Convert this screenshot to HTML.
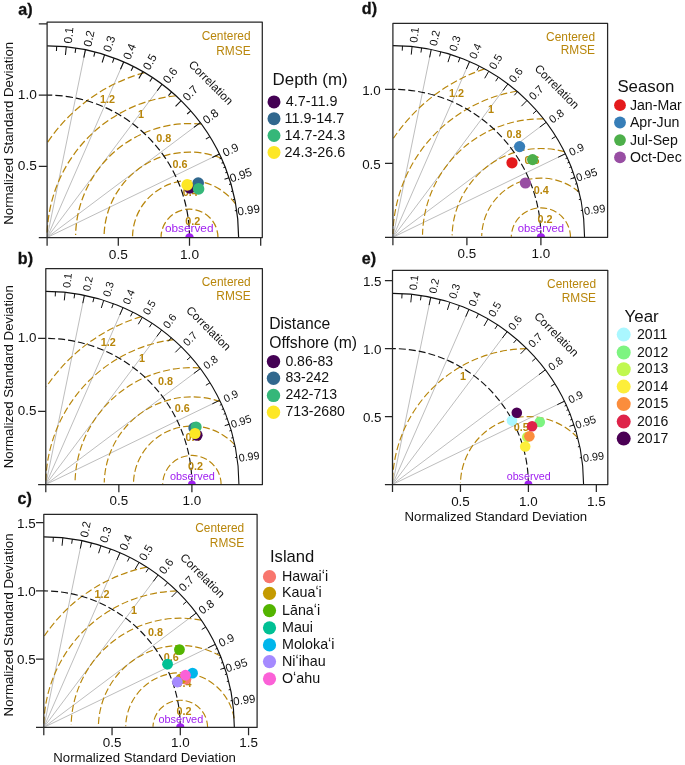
<!DOCTYPE html>
<html><head><meta charset="utf-8"><title>Taylor diagrams</title>
<style>html,body{margin:0;padding:0;background:#fff;}svg{display:block;will-change:transform;}text{font-family:'Liberation Sans', sans-serif;}</style>
</head><body>
<svg width="685" height="765" viewBox="0 0 685 765">
<rect width="685" height="765" fill="#fff"/>
<g id="pa">
<clipPath id="cla"><rect x="47.1" y="22" width="215.2" height="215.5"/></clipPath>
<path d="M47.1 237.5L85.41 49.84M47.1 237.5L123.71 61.96M47.1 237.5L162.02 84.28M47.1 237.5L200.32 122.58M47.1 237.5L219.48 154.01" stroke="#BEBEBE" stroke-width="1.0" fill="none"/>
<path d="M217.98 237.5 A28.48 28.48 0 0 0 161.03 236.89" stroke="#B8860B" stroke-width="1.25" fill="none" stroke-dasharray="7.3 3.1"/>
<path d="M235.71 204.2 A56.96 56.96 0 0 0 132.55 236.27" stroke="#B8860B" stroke-width="1.25" fill="none" stroke-dasharray="7.3 3.1"/>
<path d="M221.47 158.27 A85.44 85.44 0 0 0 104.08 235.66" stroke="#B8860B" stroke-width="1.25" fill="none" stroke-dasharray="7.3 3.1"/>
<path d="M201.53 124.22 A113.92 113.92 0 0 0 75.61 235.04" stroke="#B8860B" stroke-width="1.25" fill="none" stroke-dasharray="7.3 3.1"/>
<path d="M175.9 95.75 A142.4 142.4 0 0 0 47.13 234.43" stroke="#B8860B" stroke-width="1.25" fill="none" stroke-dasharray="7.3 3.1"/>
<path d="M144.57 72.63 A170.88 170.88 0 0 0 47.66 142.2" stroke="#B8860B" stroke-width="1.25" fill="none" stroke-dasharray="7.3 3.1"/>
<path d="M189.5 237.5 A142.4 142.4 0 0 0 47.1 95.1" stroke="#111" stroke-width="1.2" fill="none" stroke-dasharray="7.3 3.1"/>
<path d="M238.63 237.5 A191.53 191.53 0 0 0 47.1 45.97" stroke="#111" stroke-width="1.2" fill="none"/>
<path d="M66.25 46.93L65.45 54.94M85.41 49.84L83.8 57.72M104.56 54.79L102.15 62.47M123.71 61.96L120.49 69.33M142.86 71.63L138.84 78.6M162.02 84.28L157.19 90.71M181.17 100.72L175.54 106.47M200.32 122.58L193.89 127.41M219.48 154.01L212.24 157.52M56.68 46.21L56.44 50.99M75.83 48.14L75.11 52.87M94.98 52.05L93.78 56.69M114.13 58.09L112.46 62.57M133.29 66.46L131.13 70.74M152.44 77.54L149.81 81.54M171.59 91.95L168.48 95.59M190.75 110.82L187.15 113.98M209.9 136.61L205.83 139.13M229.05 177.7L224.5 179.19M221.39 158.09L219.65 158.89M223.31 162.44L221.54 163.19M225.22 167.1L223.44 167.81M227.14 172.16L225.34 172.81M229.05 177.7L227.23 178.29M230.97 183.87L229.13 184.41M232.88 190.94L231.02 191.4M234.8 199.39L232.92 199.77M236.71 210.48L234.82 210.75" stroke="#111" stroke-width="1.08" fill="none"/>
<text transform="translate(67.44 35.12) rotate(-84.26)" font-size="11.7" fill="#111" text-anchor="middle" dy="0.44em">0.1</text>
<text transform="translate(87.78 38.21) rotate(-78.46)" font-size="11.7" fill="#111" text-anchor="middle" dy="0.44em">0.2</text>
<text transform="translate(108.12 43.47) rotate(-72.54)" font-size="11.7" fill="#111" text-anchor="middle" dy="0.44em">0.3</text>
<text transform="translate(128.46 51.08) rotate(-66.42)" font-size="11.7" fill="#111" text-anchor="middle" dy="0.44em">0.4</text>
<text transform="translate(148.8 61.35) rotate(-60)" font-size="11.7" fill="#111" text-anchor="middle" dy="0.44em">0.5</text>
<text transform="translate(169.14 74.78) rotate(-53.13)" font-size="11.7" fill="#111" text-anchor="middle" dy="0.44em">0.6</text>
<text transform="translate(189.48 92.24) rotate(-45.57)" font-size="11.7" fill="#111" text-anchor="middle" dy="0.44em">0.7</text>
<text transform="translate(209.82 115.46) rotate(-36.87)" font-size="11.7" fill="#111" text-anchor="middle" dy="0.44em">0.8</text>
<text transform="translate(230.16 148.84) rotate(-25.84)" font-size="11.7" fill="#111" text-anchor="middle" dy="0.44em">0.9</text>
<text transform="translate(240.33 173.99) rotate(-18.19)" font-size="11.7" fill="#111" text-anchor="middle" dy="0.44em">0.95</text>
<text transform="translate(248.47 208.81) rotate(-8.11)" font-size="11.7" fill="#111" text-anchor="middle" dy="0.44em">0.99</text>
<text transform="translate(211 82.5) rotate(45)" font-size="11.7" fill="#111" text-anchor="middle" dy="0.35em">Correlation</text>
<text x="250.6" y="40" font-size="11.9" fill="#B8860B" text-anchor="end">Centered</text>
<text x="250.6" y="54.6" font-size="11.9" fill="#B8860B" text-anchor="end">RMSE</text>
<text x="192.7" y="221" font-size="10.8" font-weight="bold" fill="#B8860B" text-anchor="middle" dy="0.36em">0.2</text>
<text x="190.3" y="192.6" font-size="10.8" font-weight="bold" fill="#B8860B" text-anchor="middle" dy="0.36em">0.4</text>
<text x="180" y="164.3" font-size="10.8" font-weight="bold" fill="#B8860B" text-anchor="middle" dy="0.36em">0.6</text>
<text x="163.8" y="138.2" font-size="10.8" font-weight="bold" fill="#B8860B" text-anchor="middle" dy="0.36em">0.8</text>
<text x="140.9" y="114.6" font-size="10.8" font-weight="bold" fill="#B8860B" text-anchor="middle" dy="0.36em">1</text>
<text x="107.5" y="99.6" font-size="10.8" font-weight="bold" fill="#B8860B" text-anchor="middle" dy="0.36em">1.2</text>
<circle cx="189.5" cy="237.5" r="4.2" fill="#A020F0" clip-path="url(#cla)"/>
<text x="189.2" y="232.2" font-size="11.8" fill="#A020F0" text-anchor="middle">observed</text>
<path d="M47.1 237.5L47.1 22L262.3 22L262.3 237.5Z" stroke="#262626" stroke-width="1.25" fill="none" stroke-linejoin="round"/>
<path d="M47.1 237.5L47.1 245.8M47.1 237.5L38.8 237.5M118.3 237.5L118.3 245.8M47.1 166.3L38.8 166.3M189.5 237.5L189.5 245.8M47.1 95.1L38.8 95.1M260.7 237.5L260.7 245.8M47.1 23.9L38.8 23.9" stroke="#262626" stroke-width="1.25" fill="none"/>
<text x="118.3" y="259.1" font-size="13.7" fill="#111" text-anchor="middle">0.5</text>
<text x="189.5" y="259.1" font-size="13.7" fill="#111" text-anchor="middle">1.0</text>
<text x="36.8" y="166.3" font-size="13.7" fill="#111" text-anchor="end" dy="0.29em">0.5</text>
<text x="36.8" y="95.1" font-size="13.7" fill="#111" text-anchor="end" dy="0.29em">1.0</text>
<text transform="translate(8.6 133.3) rotate(-90)" font-size="13.22" fill="#111" text-anchor="middle" dy="0.36em">Normalized Standard Deviation</text>
<circle cx="189.8" cy="187.9" r="5.8" fill="#440154"/>
<circle cx="198.2" cy="183" r="5.8" fill="#31688E"/>
<circle cx="198.6" cy="188.9" r="5.8" fill="#35B779"/>
<circle cx="187.2" cy="184.9" r="5.8" fill="#FDE725"/>
<text x="18.3" y="14.8" font-size="16.1" font-weight="bold" fill="#111" stroke="#111" stroke-width="0.3">a)</text>
</g>
<g id="pb">
<clipPath id="clb"><rect x="45.8" y="268.5" width="216.6" height="216"/></clipPath>
<path d="M45.8 484.5L84.43 295.26M45.8 484.5L123.06 307.48M45.8 484.5L161.69 329.98M45.8 484.5L200.32 368.61M45.8 484.5L219.63 400.31" stroke="#BEBEBE" stroke-width="1.0" fill="none"/>
<path d="M221.12 484.5 A29.22 29.22 0 0 0 162.69 483.87" stroke="#B8860B" stroke-width="1.15" fill="none" stroke-dasharray="7 3"/>
<path d="M234.83 444.85 A58.44 58.44 0 0 0 133.47 483.24" stroke="#B8860B" stroke-width="1.15" fill="none" stroke-dasharray="7 3"/>
<path d="M220.22 401.54 A87.66 87.66 0 0 0 104.26 482.61" stroke="#B8860B" stroke-width="1.15" fill="none" stroke-dasharray="7 3"/>
<path d="M199.77 367.89 A116.88 116.88 0 0 0 75.05 481.98" stroke="#B8860B" stroke-width="1.15" fill="none" stroke-dasharray="7 3"/>
<path d="M173.47 339.57 A146.1 146.1 0 0 0 45.83 481.35" stroke="#B8860B" stroke-width="1.15" fill="none" stroke-dasharray="7 3"/>
<path d="M141.33 316.63 A175.32 175.32 0 0 0 46.38 386.73" stroke="#B8860B" stroke-width="1.15" fill="none" stroke-dasharray="7 3"/>
<path d="M191.9 484.5 A146.1 146.1 0 0 0 45.8 338.4" stroke="#111" stroke-width="1.15" fill="none" stroke-dasharray="7 3"/>
<path d="M238.94 484.5 A193.14 193.14 0 0 0 45.8 291.36" stroke="#111" stroke-width="1.1" fill="none"/>
<path d="M65.11 292.32L64.3 300.4M84.43 295.26L82.81 303.21M103.74 300.25L101.31 307.99M123.06 307.48L119.81 314.92M142.37 317.23L138.32 324.26M161.69 329.98L156.82 336.47M181 346.57L175.32 352.36M200.32 368.61L193.83 373.48M219.63 400.31L212.33 403.85M55.46 291.6L55.22 296.42M74.77 293.54L74.05 298.32M94.09 297.49L92.88 302.16M113.4 303.57L111.71 308.1M132.71 312.02L130.54 316.33M152.03 323.19L149.37 327.23M171.34 337.72L168.21 341.39M190.66 356.75L187.04 359.94M209.97 382.75L205.87 385.3M229.29 424.19L224.7 425.7M221.56 404.42L219.8 405.22M223.49 408.8L221.72 409.56M225.42 413.51L223.63 414.22M227.36 418.6L225.54 419.26M229.29 424.19L227.45 424.79M231.22 430.42L229.36 430.96M233.15 437.55L231.28 438.02M235.08 446.06L233.19 446.45M237.01 457.25L235.1 457.53" stroke="#111" stroke-width="1.0" fill="none"/>
<text transform="translate(66.31 280.41) rotate(-84.26)" font-size="10.8" fill="#111" text-anchor="middle" dy="0.44em">0.1</text>
<text transform="translate(86.82 283.53) rotate(-78.46)" font-size="10.8" fill="#111" text-anchor="middle" dy="0.44em">0.2</text>
<text transform="translate(107.34 288.83) rotate(-72.54)" font-size="10.8" fill="#111" text-anchor="middle" dy="0.44em">0.3</text>
<text transform="translate(127.85 296.51) rotate(-66.42)" font-size="10.8" fill="#111" text-anchor="middle" dy="0.44em">0.4</text>
<text transform="translate(148.36 306.86) rotate(-60)" font-size="10.8" fill="#111" text-anchor="middle" dy="0.44em">0.5</text>
<text transform="translate(168.87 320.4) rotate(-53.13)" font-size="10.8" fill="#111" text-anchor="middle" dy="0.44em">0.6</text>
<text transform="translate(189.38 338.02) rotate(-45.57)" font-size="10.8" fill="#111" text-anchor="middle" dy="0.44em">0.7</text>
<text transform="translate(209.9 361.43) rotate(-36.87)" font-size="10.8" fill="#111" text-anchor="middle" dy="0.44em">0.8</text>
<text transform="translate(230.41 395.09) rotate(-25.84)" font-size="10.8" fill="#111" text-anchor="middle" dy="0.44em">0.9</text>
<text transform="translate(240.66 420.45) rotate(-18.19)" font-size="10.8" fill="#111" text-anchor="middle" dy="0.44em">0.95</text>
<text transform="translate(248.87 455.56) rotate(-8.11)" font-size="10.8" fill="#111" text-anchor="middle" dy="0.44em">0.99</text>
<text transform="translate(208.7 328.2) rotate(45)" font-size="11.7" fill="#111" text-anchor="middle" dy="0.35em">Correlation</text>
<text x="250.7" y="286" font-size="11.9" fill="#B8860B" text-anchor="end">Centered</text>
<text x="250.7" y="299.5" font-size="11.9" fill="#B8860B" text-anchor="end">RMSE</text>
<text x="195.6" y="466.2" font-size="10.8" font-weight="bold" fill="#B8860B" text-anchor="middle" dy="0.36em">0.2</text>
<text x="193.1" y="437.3" font-size="10.8" font-weight="bold" fill="#B8860B" text-anchor="middle" dy="0.36em">0.4</text>
<text x="182.3" y="408.2" font-size="10.8" font-weight="bold" fill="#B8860B" text-anchor="middle" dy="0.36em">0.6</text>
<text x="165.5" y="380.8" font-size="10.8" font-weight="bold" fill="#B8860B" text-anchor="middle" dy="0.36em">0.8</text>
<text x="142.1" y="358" font-size="10.8" font-weight="bold" fill="#B8860B" text-anchor="middle" dy="0.36em">1</text>
<text x="108.3" y="341.7" font-size="10.8" font-weight="bold" fill="#B8860B" text-anchor="middle" dy="0.36em">1.2</text>
<circle cx="191.9" cy="484.5" r="3.9" fill="#A020F0" clip-path="url(#clb)"/>
<text x="192.4" y="479.7" font-size="10.9" fill="#A020F0" text-anchor="middle">observed</text>
<path d="M45.8 484.5L45.8 268.5L262.4 268.5L262.4 484.5Z" stroke="#262626" stroke-width="1.25" fill="none" stroke-linejoin="round"/>
<path d="M45.8 484.5L45.8 492.2M45.8 484.5L38.1 484.5M118.85 484.5L118.85 492.2M45.8 411.45L38.1 411.45M191.9 484.5L191.9 492.2M45.8 338.4L38.1 338.4" stroke="#262626" stroke-width="1.25" fill="none"/>
<text x="118.85" y="504.7" font-size="13.4" fill="#111" text-anchor="middle">0.5</text>
<text x="191.9" y="504.7" font-size="13.4" fill="#111" text-anchor="middle">1.0</text>
<text x="36.4" y="411.45" font-size="13.4" fill="#111" text-anchor="end" dy="0.29em">0.5</text>
<text x="36.4" y="338.4" font-size="13.4" fill="#111" text-anchor="end" dy="0.29em">1.0</text>
<text transform="translate(8.6 376.75) rotate(-90)" font-size="13.22" fill="#111" text-anchor="middle" dy="0.36em">Normalized Standard Deviation</text>
<circle cx="197" cy="435.2" r="5.6" fill="#440154"/>
<circle cx="193.9" cy="427.9" r="5.6" fill="#31688E"/>
<circle cx="196.1" cy="427" r="5.6" fill="#35B779"/>
<circle cx="195" cy="433.5" r="5.6" fill="#FDE725"/>
<text x="17.8" y="263.9" font-size="16.1" font-weight="bold" fill="#111" stroke="#111" stroke-width="0.3">b)</text>
</g>
<g id="pc">
<clipPath id="clc"><rect x="43.8" y="514.3" width="213.3" height="213.1"/></clipPath>
<path d="M43.8 727.4L81.91 540.7M43.8 727.4L120.02 552.75M43.8 727.4L158.13 574.96M43.8 727.4L196.24 613.07M43.8 727.4L215.3 644.34" stroke="#BEBEBE" stroke-width="1.0" fill="none"/>
<path d="M207.6 727.4 A27.3 27.3 0 0 0 153.01 726.81" stroke="#B8860B" stroke-width="1.15" fill="none" stroke-dasharray="7 3"/>
<path d="M234.14 718.3 A54.6 54.6 0 0 0 125.71 726.22" stroke="#B8860B" stroke-width="1.15" fill="none" stroke-dasharray="7 3"/>
<path d="M220.49 656.04 A81.9 81.9 0 0 0 98.42 725.63" stroke="#B8860B" stroke-width="1.15" fill="none" stroke-dasharray="7 3"/>
<path d="M201.38 620.25 A109.2 109.2 0 0 0 71.13 725.04" stroke="#B8860B" stroke-width="1.15" fill="none" stroke-dasharray="7 3"/>
<path d="M176.81 590.94 A136.5 136.5 0 0 0 43.83 724.45" stroke="#B8860B" stroke-width="1.15" fill="none" stroke-dasharray="7 3"/>
<path d="M146.78 567.07 A163.8 163.8 0 0 0 44.34 636.05" stroke="#B8860B" stroke-width="1.15" fill="none" stroke-dasharray="7 3"/>
<path d="M180.3 727.4 A136.5 136.5 0 0 0 43.8 590.9" stroke="#111" stroke-width="1.15" fill="none" stroke-dasharray="7 3"/>
<path d="M234.35 727.4 A190.55 190.55 0 0 0 43.8 536.85" stroke="#111" stroke-width="1.15" fill="none"/>
<path d="M62.86 537.8L62.06 545.76M81.91 540.7L80.31 548.54M100.97 545.62L98.57 553.26M120.02 552.75L116.82 560.09M139.08 562.38L135.08 569.31M158.13 574.96L153.33 581.36M177.19 591.32L171.59 597.03M196.24 613.07L189.84 617.87M215.3 644.34L208.1 647.83M53.33 537.08L53.09 541.84M72.38 539L71.67 543.71M91.44 542.9L90.25 547.51M110.49 548.9L108.83 553.36M129.55 557.23L127.41 561.48M148.6 568.26L145.98 572.23M167.66 582.59L164.56 586.21M186.72 601.36L183.14 604.51M205.77 627.02L201.72 629.53M224.83 667.9L220.3 669.39M217.2 648.39L215.47 649.18M219.11 652.72L217.36 653.47M221.02 657.36L219.24 658.06M222.92 662.39L221.13 663.04M224.83 667.9L223.02 668.49M226.73 674.04L224.9 674.58M228.64 681.08L226.79 681.54M230.54 689.48L228.68 689.86M232.45 700.52L230.56 700.79" stroke="#111" stroke-width="1.0" fill="none"/>
<text transform="translate(84.27 529.12) rotate(-78.46)" font-size="11.5" fill="#111" text-anchor="middle" dy="0.44em">0.2</text>
<text transform="translate(104.51 534.35) rotate(-72.54)" font-size="11.5" fill="#111" text-anchor="middle" dy="0.44em">0.3</text>
<text transform="translate(124.75 541.93) rotate(-66.42)" font-size="11.5" fill="#111" text-anchor="middle" dy="0.44em">0.4</text>
<text transform="translate(144.98 552.14) rotate(-60)" font-size="11.5" fill="#111" text-anchor="middle" dy="0.44em">0.5</text>
<text transform="translate(165.22 565.51) rotate(-53.13)" font-size="11.5" fill="#111" text-anchor="middle" dy="0.44em">0.6</text>
<text transform="translate(185.46 582.88) rotate(-45.57)" font-size="11.5" fill="#111" text-anchor="middle" dy="0.44em">0.7</text>
<text transform="translate(205.69 605.98) rotate(-36.87)" font-size="11.5" fill="#111" text-anchor="middle" dy="0.44em">0.8</text>
<text transform="translate(225.93 639.19) rotate(-25.84)" font-size="11.5" fill="#111" text-anchor="middle" dy="0.44em">0.9</text>
<text transform="translate(236.05 664.21) rotate(-18.19)" font-size="11.5" fill="#111" text-anchor="middle" dy="0.44em">0.95</text>
<text transform="translate(244.14 698.85) rotate(-8.11)" font-size="11.5" fill="#111" text-anchor="middle" dy="0.44em">0.99</text>
<text transform="translate(202.7 575.5) rotate(45)" font-size="11.7" fill="#111" text-anchor="middle" dy="0.35em">Correlation</text>
<text x="244.2" y="532" font-size="11.9" fill="#B8860B" text-anchor="end">Centered</text>
<text x="244.2" y="546.6" font-size="11.9" fill="#B8860B" text-anchor="end">RMSE</text>
<text x="184" y="711.4" font-size="10.8" font-weight="bold" fill="#B8860B" text-anchor="middle" dy="0.36em">0.2</text>
<text x="184" y="683" font-size="10.8" font-weight="bold" fill="#B8860B" text-anchor="middle" dy="0.36em">0.4</text>
<text x="171.3" y="657" font-size="10.8" font-weight="bold" fill="#B8860B" text-anchor="middle" dy="0.36em">0.6</text>
<text x="155.5" y="632" font-size="10.8" font-weight="bold" fill="#B8860B" text-anchor="middle" dy="0.36em">0.8</text>
<text x="134" y="610.1" font-size="10.8" font-weight="bold" fill="#B8860B" text-anchor="middle" dy="0.36em">1</text>
<text x="102" y="594.5" font-size="10.8" font-weight="bold" fill="#B8860B" text-anchor="middle" dy="0.36em">1.2</text>
<circle cx="180.3" cy="727.4" r="4.1" fill="#A020F0" clip-path="url(#clc)"/>
<text x="180.8" y="722.8" font-size="10.9" fill="#A020F0" text-anchor="middle">observed</text>
<path d="M43.8 727.4L43.8 514.3L257.1 514.3L257.1 727.4Z" stroke="#262626" stroke-width="1.25" fill="none" stroke-linejoin="round"/>
<path d="M43.8 727.4L43.8 735.2M43.8 727.4L36 727.4M112.05 727.4L112.05 735.2M43.8 659.15L36 659.15M180.3 727.4L180.3 735.2M43.8 590.9L36 590.9M248.55 727.4L248.55 735.2M43.8 522.65L36 522.65" stroke="#262626" stroke-width="1.25" fill="none"/>
<text x="112.05" y="746.9" font-size="13.4" fill="#111" text-anchor="middle">0.5</text>
<text x="180.3" y="746.9" font-size="13.4" fill="#111" text-anchor="middle">1.0</text>
<text x="248.55" y="746.9" font-size="13.4" fill="#111" text-anchor="middle">1.5</text>
<text x="35.6" y="659.15" font-size="13.4" fill="#111" text-anchor="end" dy="0.395em">0.5</text>
<text x="35.6" y="590.9" font-size="13.4" fill="#111" text-anchor="end" dy="0.395em">1.0</text>
<text x="35.6" y="522.65" font-size="13.4" fill="#111" text-anchor="end" dy="0.395em">1.5</text>
<text transform="translate(8.1 624.95) rotate(-90)" font-size="13.22" fill="#111" text-anchor="middle" dy="0.36em">Normalized Standard Deviation</text>
<text x="144.55" y="762" font-size="13.2" fill="#111" text-anchor="middle">Normalized Standard Deviation</text>
<circle cx="185.9" cy="679.2" r="5.4" fill="#F8766D"/>
<circle cx="180.9" cy="678.8" r="5.4" fill="#C49A00"/>
<circle cx="179.45" cy="649.6" r="5.4" fill="#53B400"/>
<circle cx="167.55" cy="664.15" r="5.4" fill="#00C094"/>
<circle cx="192.55" cy="673.15" r="5.4" fill="#00B6EB"/>
<circle cx="177.4" cy="682" r="5.4" fill="#A58AFF"/>
<circle cx="185.45" cy="675.25" r="5.4" fill="#FB61D7"/>
<text x="17.5" y="503.9" font-size="16.1" font-weight="bold" fill="#111" stroke="#111" stroke-width="0.3">c)</text>
</g>
<g id="pd">
<clipPath id="cld"><rect x="392.9" y="23.4" width="214.7" height="213.9"/></clipPath>
<path d="M392.9 237.3L431.23 49.51M392.9 237.3L469.56 61.64M392.9 237.3L507.9 83.97M392.9 237.3L546.23 122.3M392.9 237.3L565.39 153.76" stroke="#BEBEBE" stroke-width="1.0" fill="none"/>
<path d="M570.5 237.3 A29.6 29.6 0 0 0 511.31 236.66" stroke="#B8860B" stroke-width="1.15" fill="none" stroke-dasharray="7 3"/>
<path d="M579.16 192.12 A59.2 59.2 0 0 0 481.71 236.02" stroke="#B8860B" stroke-width="1.15" fill="none" stroke-dasharray="7 3"/>
<path d="M564.36 151.65 A88.8 88.8 0 0 0 452.12 235.38" stroke="#B8860B" stroke-width="1.15" fill="none" stroke-dasharray="7 3"/>
<path d="M543.64 118.93 A118.4 118.4 0 0 0 422.53 234.74" stroke="#B8860B" stroke-width="1.15" fill="none" stroke-dasharray="7 3"/>
<path d="M517 91.24 A148 148 0 0 0 392.93 234.1" stroke="#B8860B" stroke-width="1.15" fill="none" stroke-dasharray="7 3"/>
<path d="M484.44 68.91 A177.6 177.6 0 0 0 393.48 138.26" stroke="#B8860B" stroke-width="1.15" fill="none" stroke-dasharray="7 3"/>
<path d="M540.9 237.3 A148 148 0 0 0 392.9 89.3" stroke="#111" stroke-width="1.15" fill="none" stroke-dasharray="7 3"/>
<path d="M584.56 237.3 A191.66 191.66 0 0 0 392.9 45.64" stroke="#111" stroke-width="1.12" fill="none"/>
<path d="M412.07 46.6L411.26 54.61M431.23 49.51L429.62 57.4M450.4 54.47L447.98 62.15M469.56 61.64L466.34 69.02M488.73 71.32L484.71 78.29M507.9 83.97L503.07 90.41M527.06 100.43L521.43 106.18M546.23 122.3L539.79 127.13M565.39 153.76L558.15 157.27M402.48 45.88L402.24 50.67M421.65 47.81L420.93 52.55M440.81 51.73L439.62 56.37M459.98 57.76L458.3 62.25M479.15 66.14L476.99 70.42M498.31 77.23L495.68 81.23M517.48 91.65L514.36 95.29M536.64 110.53L533.05 113.7M555.81 136.34L551.74 138.86M574.98 177.45L570.43 178.95M567.31 157.84L565.57 158.63M569.23 162.18L567.46 162.94M571.14 166.85L569.36 167.56M573.06 171.91L571.26 172.56M574.98 177.45L573.16 178.05M576.89 183.64L575.05 184.17M578.81 190.71L576.95 191.17M580.73 199.16L578.85 199.54M582.64 210.26L580.75 210.53" stroke="#111" stroke-width="1.0" fill="none"/>
<text transform="translate(413.25 34.78) rotate(-84.26)" font-size="11.1" fill="#111" text-anchor="middle" dy="0.44em">0.1</text>
<text transform="translate(433.61 37.87) rotate(-78.46)" font-size="11.1" fill="#111" text-anchor="middle" dy="0.44em">0.2</text>
<text transform="translate(453.96 43.13) rotate(-72.54)" font-size="11.1" fill="#111" text-anchor="middle" dy="0.44em">0.3</text>
<text transform="translate(474.32 50.75) rotate(-66.42)" font-size="11.1" fill="#111" text-anchor="middle" dy="0.44em">0.4</text>
<text transform="translate(494.67 61.03) rotate(-60)" font-size="11.1" fill="#111" text-anchor="middle" dy="0.44em">0.5</text>
<text transform="translate(515.03 74.47) rotate(-53.13)" font-size="11.1" fill="#111" text-anchor="middle" dy="0.44em">0.6</text>
<text transform="translate(535.38 91.94) rotate(-45.57)" font-size="11.1" fill="#111" text-anchor="middle" dy="0.44em">0.7</text>
<text transform="translate(555.73 115.17) rotate(-36.87)" font-size="11.1" fill="#111" text-anchor="middle" dy="0.44em">0.8</text>
<text transform="translate(576.09 148.58) rotate(-25.84)" font-size="11.1" fill="#111" text-anchor="middle" dy="0.44em">0.9</text>
<text transform="translate(586.27 173.74) rotate(-18.19)" font-size="11.1" fill="#111" text-anchor="middle" dy="0.44em">0.95</text>
<text transform="translate(594.41 208.59) rotate(-8.11)" font-size="11.1" fill="#111" text-anchor="middle" dy="0.44em">0.99</text>
<text transform="translate(557 86.5) rotate(45)" font-size="11.7" fill="#111" text-anchor="middle" dy="0.35em">Correlation</text>
<text x="595" y="40.5" font-size="11.9" fill="#B8860B" text-anchor="end">Centered</text>
<text x="595" y="54.4" font-size="11.9" fill="#B8860B" text-anchor="end">RMSE</text>
<text x="545" y="219.4" font-size="10.8" font-weight="bold" fill="#B8860B" text-anchor="middle" dy="0.36em">0.2</text>
<text x="541.3" y="190" font-size="10.8" font-weight="bold" fill="#B8860B" text-anchor="middle" dy="0.36em">0.4</text>
<text x="532" y="160" font-size="10.8" font-weight="bold" fill="#B8860B" text-anchor="middle" dy="0.36em">0.6</text>
<text x="514" y="134" font-size="10.8" font-weight="bold" fill="#B8860B" text-anchor="middle" dy="0.36em">0.8</text>
<text x="491" y="108.7" font-size="10.8" font-weight="bold" fill="#B8860B" text-anchor="middle" dy="0.36em">1</text>
<text x="456.5" y="93" font-size="10.8" font-weight="bold" fill="#B8860B" text-anchor="middle" dy="0.36em">1.2</text>
<circle cx="540.9" cy="237.3" r="4.1" fill="#A020F0" clip-path="url(#cld)"/>
<text x="540.9" y="232.1" font-size="11.3" fill="#A020F0" text-anchor="middle">observed</text>
<path d="M392.9 237.3L392.9 23.4L607.6 23.4L607.6 237.3Z" stroke="#262626" stroke-width="1.25" fill="none" stroke-linejoin="round"/>
<path d="M392.9 237.3L392.9 245.2M392.9 237.3L385 237.3M466.9 237.3L466.9 245.2M392.9 163.3L385 163.3M540.9 237.3L540.9 245.2M392.9 89.3L385 89.3" stroke="#262626" stroke-width="1.25" fill="none"/>
<text x="466.9" y="258.3" font-size="13.4" fill="#111" text-anchor="middle">0.5</text>
<text x="540.9" y="258.3" font-size="13.4" fill="#111" text-anchor="middle">1.0</text>
<text x="380.8" y="163.3" font-size="13.4" fill="#111" text-anchor="end" dy="0.4em">0.5</text>
<text x="380.8" y="89.3" font-size="13.4" fill="#111" text-anchor="end" dy="0.4em">1.0</text>
<circle cx="512" cy="162.8" r="5.6" fill="#E41A1C"/>
<circle cx="519.6" cy="146.6" r="5.6" fill="#377EB8"/>
<circle cx="532.6" cy="159.6" r="5.6" fill="#4DAF4A"/>
<circle cx="525.4" cy="183" r="5.6" fill="#984EA3"/>
<text x="361.8" y="14.4" font-size="16.1" font-weight="bold" fill="#111" stroke="#111" stroke-width="0.3">d)</text>
</g>
<g id="pe">
<clipPath id="cle"><rect x="392.5" y="270.3" width="215.3" height="214.2"/></clipPath>
<path d="M392.5 484.5L430.72 297.29M392.5 484.5L468.93 309.38M392.5 484.5L507.15 331.64M392.5 484.5L545.36 369.85M392.5 484.5L564.47 401.21" stroke="#BEBEBE" stroke-width="1.0" fill="none"/>
<path d="M577.79 437.83 A67.95 67.95 0 0 0 460.47 483.03" stroke="#B8860B" stroke-width="1.15" fill="none" stroke-dasharray="7 3"/>
<path d="M526.83 348.61 A135.9 135.9 0 0 0 392.53 481.57" stroke="#B8860B" stroke-width="1.15" fill="none" stroke-dasharray="7 3"/>
<path d="M528.4 484.5 A135.9 135.9 0 0 0 392.5 348.6" stroke="#111" stroke-width="1.15" fill="none" stroke-dasharray="7 3"/>
<path d="M583.58 484.5 A191.08 191.08 0 0 0 392.5 293.42" stroke="#111" stroke-width="1.12" fill="none"/>
<path d="M411.61 294.38L410.81 302.37M430.72 297.29L429.11 305.15M449.82 302.23L447.42 309.88M468.93 309.38L465.72 316.73M488.04 319.02L484.03 325.97M507.15 331.64L502.33 338.06M526.25 348.04L520.64 353.78M545.36 369.85L538.94 374.67M564.47 401.21L557.25 404.71M402.05 293.66L401.81 298.43M421.16 295.59L420.44 300.31M440.27 299.49L439.07 304.12M459.38 305.51L457.7 309.98M478.48 313.86L476.33 318.13M497.59 324.92L494.96 328.91M516.7 339.3L513.59 342.93M535.81 358.12L532.22 361.28M554.91 383.84L550.85 386.36M574.02 424.84L569.48 426.33M566.38 405.28L564.64 406.07M568.29 409.61L566.53 410.36M570.2 414.27L568.42 414.97M572.11 419.31L570.31 419.96M574.02 424.84L572.21 425.43M575.93 431L574.1 431.53M577.84 438.05L575.99 438.51M579.75 446.48L577.88 446.86M581.66 457.55L579.77 457.82" stroke="#111" stroke-width="1.0" fill="none"/>
<text transform="translate(412.79 282.6) rotate(-84.26)" font-size="10.9" fill="#111" text-anchor="middle" dy="0.44em">0.1</text>
<text transform="translate(433.08 285.68) rotate(-78.46)" font-size="10.9" fill="#111" text-anchor="middle" dy="0.44em">0.2</text>
<text transform="translate(453.38 290.92) rotate(-72.54)" font-size="10.9" fill="#111" text-anchor="middle" dy="0.44em">0.3</text>
<text transform="translate(473.67 298.52) rotate(-66.42)" font-size="10.9" fill="#111" text-anchor="middle" dy="0.44em">0.4</text>
<text transform="translate(493.96 308.76) rotate(-60)" font-size="10.9" fill="#111" text-anchor="middle" dy="0.44em">0.5</text>
<text transform="translate(514.25 322.16) rotate(-53.13)" font-size="10.9" fill="#111" text-anchor="middle" dy="0.44em">0.6</text>
<text transform="translate(534.55 339.58) rotate(-45.57)" font-size="10.9" fill="#111" text-anchor="middle" dy="0.44em">0.7</text>
<text transform="translate(554.84 362.75) rotate(-36.87)" font-size="10.9" fill="#111" text-anchor="middle" dy="0.44em">0.8</text>
<text transform="translate(575.13 396.05) rotate(-25.84)" font-size="10.9" fill="#111" text-anchor="middle" dy="0.44em">0.9</text>
<text transform="translate(585.28 421.14) rotate(-18.19)" font-size="10.9" fill="#111" text-anchor="middle" dy="0.44em">0.95</text>
<text transform="translate(593.39 455.87) rotate(-8.11)" font-size="10.9" fill="#111" text-anchor="middle" dy="0.44em">0.99</text>
<text transform="translate(556.5 334.2) rotate(45)" font-size="11.7" fill="#111" text-anchor="middle" dy="0.35em">Correlation</text>
<text x="596" y="287.7" font-size="11.9" fill="#B8860B" text-anchor="end">Centered</text>
<text x="596" y="301.5" font-size="11.9" fill="#B8860B" text-anchor="end">RMSE</text>
<text x="521.2" y="427" font-size="10.8" font-weight="bold" fill="#B8860B" text-anchor="middle" dy="0.36em">0.5</text>
<text x="463" y="376" font-size="10.8" font-weight="bold" fill="#B8860B" text-anchor="middle" dy="0.36em">1</text>
<circle cx="528.4" cy="484.5" r="4.0" fill="#A020F0" clip-path="url(#cle)"/>
<text x="528.7" y="479.6" font-size="10.7" fill="#A020F0" text-anchor="middle">observed</text>
<path d="M392.5 484.5L392.5 270.3L607.8 270.3L607.8 484.5Z" stroke="#262626" stroke-width="1.25" fill="none" stroke-linejoin="round"/>
<path d="M392.5 484.5L392.5 492.1M392.5 484.5L384.9 484.5M460.45 484.5L460.45 492.1M392.5 416.55L384.9 416.55M528.4 484.5L528.4 492.1M392.5 348.6L384.9 348.6M596.35 484.5L596.35 492.1M392.5 280.65L384.9 280.65" stroke="#262626" stroke-width="1.25" fill="none"/>
<text x="460.45" y="505.7" font-size="13.4" fill="#111" text-anchor="middle">0.5</text>
<text x="528.4" y="505.7" font-size="13.4" fill="#111" text-anchor="middle">1.0</text>
<text x="596.35" y="505.7" font-size="13.4" fill="#111" text-anchor="middle">1.5</text>
<text x="381.5" y="416.55" font-size="13.4" fill="#111" text-anchor="end" dy="0.4em">0.5</text>
<text x="381.5" y="348.6" font-size="13.4" fill="#111" text-anchor="end" dy="0.4em">1.0</text>
<text x="381.5" y="280.65" font-size="13.4" fill="#111" text-anchor="end" dy="0.4em">1.5</text>
<text x="495.85" y="521.3" font-size="13.2" fill="#111" text-anchor="middle">Normalized Standard Deviation</text>
<circle cx="512" cy="420.6" r="5.3" fill="#AAF7FF"/>
<circle cx="539.8" cy="422" r="5.3" fill="#7DF481"/>
<circle cx="527.3" cy="437" r="5.3" fill="#C0F850"/>
<circle cx="525.2" cy="446.5" r="5.3" fill="#FDEE3A"/>
<circle cx="529.4" cy="436.3" r="5.3" fill="#FB8D3C"/>
<circle cx="532.1" cy="426.3" r="5.3" fill="#DE2349"/>
<circle cx="516.8" cy="412.8" r="5.3" fill="#4B0055"/>
<text x="361.8" y="263.8" font-size="16.1" font-weight="bold" fill="#111" stroke="#111" stroke-width="0.3">e)</text>
</g>
<g>
<text x="272.6" y="85.3" font-size="16.9" fill="#111">Depth (m)</text>
<circle cx="274" cy="101.9" r="6.5" fill="#440154"/>
<text x="285.8" y="101.9" font-size="14.35" fill="#111" dy="0.29em">4.7-11.9</text>
<circle cx="274" cy="118.7" r="6.5" fill="#31688E"/>
<text x="284.6" y="118.7" font-size="14.35" fill="#111" dy="0.29em">11.9-14.7</text>
<circle cx="274" cy="135.5" r="6.5" fill="#35B779"/>
<text x="284.6" y="135.5" font-size="14.35" fill="#111" dy="0.29em">14.7-24.3</text>
<circle cx="274" cy="152.4" r="6.5" fill="#FDE725"/>
<text x="284.6" y="152.4" font-size="14.35" fill="#111" dy="0.29em">24.3-26.6</text>
</g>
<g>
<text x="269.2" y="328.5" font-size="15.7" fill="#111">Distance</text>
<text x="269.2" y="347.5" font-size="15.7" fill="#111">Offshore (m)</text>
<circle cx="273.5" cy="361.6" r="6.7" fill="#440154"/>
<text x="285.4" y="361.6" font-size="14.05" fill="#111" dy="0.29em">0.86-83</text>
<circle cx="273.5" cy="378.2" r="6.7" fill="#31688E"/>
<text x="285.4" y="378.2" font-size="14.05" fill="#111" dy="0.29em">83-242</text>
<circle cx="273.5" cy="395.4" r="6.7" fill="#35B779"/>
<text x="285.4" y="395.4" font-size="14.05" fill="#111" dy="0.29em">242-713</text>
<circle cx="273.5" cy="412.2" r="6.7" fill="#FDE725"/>
<text x="285.4" y="412.2" font-size="14.05" fill="#111" dy="0.29em">713-2680</text>
</g>
<g>
<text x="270" y="562" font-size="16.6" fill="#111">Island</text>
<circle cx="269.5" cy="576.7" r="6.6" fill="#F8766D"/>
<text x="282" y="576.7" font-size="14.3" fill="#111" dy="0.29em">Hawaiʻi</text>
<circle cx="269.5" cy="593.3" r="6.6" fill="#C49A00"/>
<text x="282" y="593.3" font-size="14.3" fill="#111" dy="0.29em">Kauaʻi</text>
<circle cx="269.5" cy="610.6" r="6.6" fill="#53B400"/>
<text x="282" y="610.6" font-size="14.3" fill="#111" dy="0.29em">Lānaʻi</text>
<circle cx="269.5" cy="627.8" r="6.6" fill="#00C094"/>
<text x="282" y="627.8" font-size="14.3" fill="#111" dy="0.29em">Maui</text>
<circle cx="269.5" cy="644.9" r="6.6" fill="#00B6EB"/>
<text x="282" y="644.9" font-size="14.3" fill="#111" dy="0.29em">Molokaʻi</text>
<circle cx="269.5" cy="661.6" r="6.6" fill="#A58AFF"/>
<text x="282" y="661.6" font-size="14.3" fill="#111" dy="0.29em">Niʻihau</text>
<circle cx="269.5" cy="678.8" r="6.6" fill="#FB61D7"/>
<text x="282" y="678.8" font-size="14.3" fill="#111" dy="0.29em">Oʻahu</text>
</g>
<g>
<text x="617.4" y="91.6" font-size="16.8" fill="#111">Season</text>
<circle cx="620" cy="105.2" r="5.9" fill="#E41A1C"/>
<text x="629.9" y="105.2" font-size="14.15" fill="#111" dy="0.32em">Jan-Mar</text>
<circle cx="620" cy="122.5" r="5.9" fill="#377EB8"/>
<text x="629.9" y="122.5" font-size="14.15" fill="#111" dy="0.32em">Apr-Jun</text>
<circle cx="620" cy="140.1" r="5.9" fill="#4DAF4A"/>
<text x="629.9" y="140.1" font-size="14.15" fill="#111" dy="0.32em">Jul-Sep</text>
<circle cx="620" cy="157.4" r="5.9" fill="#984EA3"/>
<text x="629.9" y="157.4" font-size="14.15" fill="#111" dy="0.32em">Oct-Dec</text>
</g>
<g>
<text x="624.6" y="321.6" font-size="16.9" fill="#111">Year</text>
<circle cx="623.7" cy="334.6" r="7.0" fill="#AAF7FF"/>
<text x="637" y="334.6" font-size="14.07" fill="#111" dy="0.29em">2011</text>
<circle cx="623.7" cy="352.5" r="7.0" fill="#7DF481"/>
<text x="637" y="352.5" font-size="14.07" fill="#111" dy="0.29em">2012</text>
<circle cx="623.7" cy="369.3" r="7.0" fill="#C0F850"/>
<text x="637" y="369.3" font-size="14.07" fill="#111" dy="0.29em">2013</text>
<circle cx="623.7" cy="386.6" r="7.0" fill="#FDEE3A"/>
<text x="637" y="386.6" font-size="14.07" fill="#111" dy="0.29em">2014</text>
<circle cx="623.7" cy="404.1" r="7.0" fill="#FB8D3C"/>
<text x="637" y="404.1" font-size="14.07" fill="#111" dy="0.29em">2015</text>
<circle cx="623.7" cy="421.6" r="7.0" fill="#DE2349"/>
<text x="637" y="421.6" font-size="14.07" fill="#111" dy="0.29em">2016</text>
<circle cx="623.7" cy="438.6" r="7.0" fill="#4B0055"/>
<text x="637" y="438.6" font-size="14.07" fill="#111" dy="0.29em">2017</text>
</g>
</svg></body></html>
